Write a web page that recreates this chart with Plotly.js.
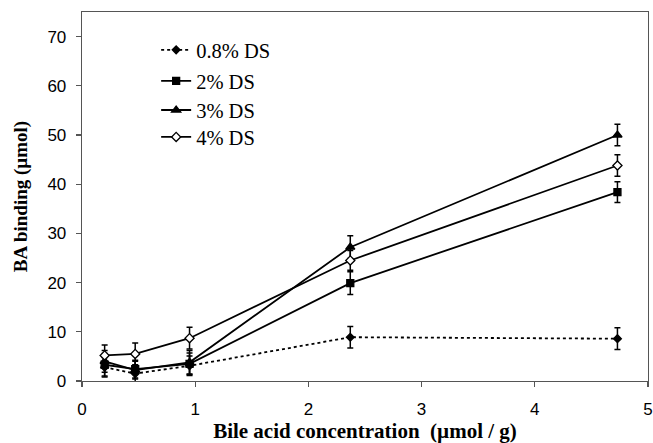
<!DOCTYPE html>
<html>
<head>
<meta charset="utf-8">
<script src="https://cdn.plot.ly/plotly-3.0.1.min.js"></script>
<style>html,body{margin:0;padding:0;background:#fff;}#chart{width:653px;height:443px;}</style>
</head>
<body>
<div id="chart"></div>
<script>
// Bile acid concentration (µmol / g)
const conc = [0.2, 0.47, 0.95, 2.37, 4.73];

const seriesNames = ["0.8% DS", "2% DS", "3% DS", "4% DS"];

const ds08 = [2.8, 1.5, 3.1, 8.9, 8.6];
const ds08Err = [2.0, 1.7, 2.0, 2.2, 2.2];

const ds2 = [3.3, 2.4, 3.5, 19.9, 38.4];
const ds2Err = [2.3, 1.8, 2.2, 2.3, 2.1];

const ds3 = [4.0, 2.2, 3.8, 27.2, 50.0];
const ds3Err = [2.2, 1.8, 2.4, 2.3, 2.2];

const ds4 = [5.2, 5.5, 8.7, 24.5, 43.8];
const ds4Err = [2.1, 2.2, 2.2, 2.0, 2.2];

const xTicks = [0, 1, 2, 3, 4, 5];
const yTicks = [0, 10, 20, 30, 40, 50, 60, 70];

const serif = "Liberation Serif, Times New Roman, serif";
const sans = "Liberation Sans, Arial, sans-serif";

function trace(name, legendId, y, err, dash, symbol, size, fill) {
  return {
    type: "scatter", mode: "lines+markers", name: name, legend: legendId,
    x: conc, y: y,
    line: {color: "#000", width: 1.8, dash: dash},
    marker: {symbol: symbol, size: size, color: fill, line: {color: "#000", width: 1.3}},
    error_y: {type: "data", array: err, visible: true, color: "#000", thickness: 1.5, width: 3}
  };
}

const data = [
  trace(seriesNames[0], "legend", ds08, ds08Err, "dot", "diamond", 6, "#000"),
  trace(seriesNames[1], "legend2", ds2, ds2Err, "solid", "square", 7, "#000"),
  trace(seriesNames[2], "legend3", ds3, ds3Err, "solid", "triangle-up", 8, "#000"),
  trace(seriesNames[3], "legend4", ds4, ds4Err, "solid", "diamond", 7, "#fff")
];

function leg(y) {
  return {
    x: 0.131, y: y, xanchor: "left", yanchor: "middle",
    bgcolor: "rgba(0,0,0,0)", borderwidth: 0,
    font: {family: serif, size: 20.5, color: "#000"}
  };
}

const layout = {
  width: 653, height: 443,
  margin: {l: 82, r: 5, t: 12, b: 62},
  paper_bgcolor: "#fff", plot_bgcolor: "#fff",
  showlegend: true,
  legend: leg(0.897),
  legend2: leg(0.813),
  legend3: leg(0.734),
  legend4: leg(0.661),
  xaxis: {
    range: [0, 5], tickvals: xTicks, ticktext: xTicks.map(String),
    showgrid: false, zeroline: false,
    showline: true, linecolor: "#555", linewidth: 1.3, mirror: true,
    ticks: "outside", ticklen: 5, tickcolor: "#555", tickwidth: 1.3,
    ticklabelstandoff: 7,
    tickfont: {family: sans, size: 17, color: "#000"},
    title: {text: "Bile acid concentration\u00a0 (µmol / g)", standoff: 12,
      font: {family: serif, size: 21, color: "#000", weight: "bold"}}
  },
  yaxis: {
    range: [0, 75], tickvals: yTicks, ticktext: yTicks.map(String),
    showgrid: false, zeroline: false,
    showline: true, linecolor: "#555", linewidth: 1.3, mirror: true,
    ticks: "outside", ticklen: 5, tickcolor: "#555", tickwidth: 1.3,
    ticklabelstandoff: 6,
    tickfont: {family: sans, size: 17, color: "#000"},
    title: {text: "BA binding (µmol)", standoff: 14,
      font: {family: serif, size: 19, color: "#000", weight: "bold"}}
  }
};

Plotly.newPlot("chart", data, layout, {staticPlot: true, displayModeBar: false});
</script>
</body>
</html>
